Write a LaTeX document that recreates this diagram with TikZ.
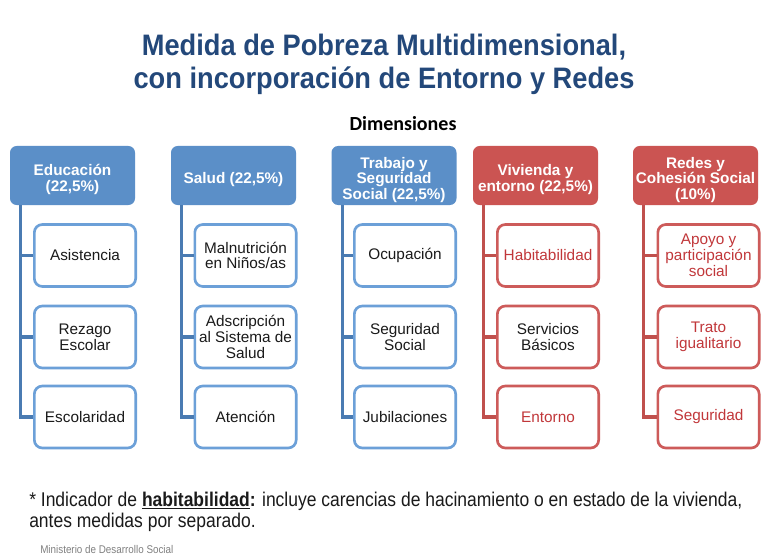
\documentclass[tikz,border=0pt]{standalone}
\usepackage{fontspec}
\setmainfont{Liberation Sans}
\newfontfamily\calibri{Carlito}
\newfontfamily\narrowsans[FakeStretch=0.88]{Liberation Sans}
\newfontfamily\titlesans[FakeStretch=0.92]{Liberation Sans}
\definecolor{titleblue}{HTML}{23487A}
\definecolor{hblue}{HTML}{5B8FC8}
\definecolor{hred}{HTML}{CB5452}
\definecolor{bblue}{HTML}{6CA0D8}
\definecolor{lblue}{HTML}{4A7BB2}
\definecolor{bred}{HTML}{CD5B5A}
\definecolor{lred}{HTML}{C0504D}
\definecolor{redtext}{HTML}{C1373A}
\definecolor{txt}{HTML}{1A1A1A}
\newcommand{\hu}{\rule{0pt}{14.5pt}}
\begin{document}
\begin{tikzpicture}[x=0.75pt,y=-0.75pt,
  hdr/.style={rounded corners=5pt, minimum width=93.75pt, minimum height=44.25pt,
    text=white, font=\bfseries\fontsize{11.5}{11.6}\selectfont, align=center, inner sep=0pt},
  hdrB/.style={hdr, fill=hblue},
  hdrR/.style={hdr, fill=hred},
  ch/.style={draw, line width=2pt, rounded corners=6pt, fill=white,
    minimum width=76pt, minimum height=46.5pt, inner sep=0pt, align=center,
    font=\fontsize{11.5}{11.8}\selectfont},
  chB/.style={ch, draw=bblue, text=txt},
  chR/.style={ch, draw=bred, text=redtext},
  chRk/.style={ch, draw=bred, text=txt},
  lnB/.style={draw=lblue, line width=2.4pt},
  lnR/.style={draw=lred, line width=2.4pt}
]
\path[use as bounding box, fill=white] (0,0) rectangle (763,556);

% title
\node[font=\titlesans\bfseries\fontsize{22.2}{24.75}\selectfont, text=titleblue, align=center] (title) at (384,64)
  {Medida de Pobreza Multidimensional,\\con incorporación de Entorno y Redes};
\node[font=\calibri\bfseries\fontsize{15}{18}\selectfont, text=black] (dim) at (403,124) {Dimensiones};

% headers
\node[hdrB] (e0) at (72.5,175.5) {\hu Educación\\(22,5\%)};
\node[hdrB] (s0) at (233.5,175.5) {\hu Salud (22,5\%)};
\node[hdrB] (t0) at (394,175.5) {\hu Trabajo y\\Seguridad\\Social (22,5\%)};
\node[hdrR] (v0) at (535.5,175.5) {\hu Vivienda y\\entorno (22,5\%)};
\node[hdrR] (r0) at (695.5,175.5) {\hu Redes y\\Cohesión Social\\(10\%)};

% children
\node[chB] (e1) at (85,255.5) {Asistencia};
\node[chB] (e2) at (85,337) {Rezago\\Escolar};
\node[chB] (e3) at (85,417) {Escolaridad};
\node[chB] (s1) at (245.5,255.5) {Malnutrición\\en Niños/as};
\node[chB] (s2) at (245.5,337) {Adscripción\\al Sistema de\\Salud};
\node[chB] (s3) at (245.5,417) {Atención};
\node[chB] (t1) at (405,255.5) {Ocupación};
\node[chB] (t2) at (405,337) {Seguridad\\Social};
\node[chB] (t3) at (405,417) {Jubilaciones};
\node[chR] (v1) at (548,255.5) {Habitabilidad};
\node[chRk] (v2) at (548,337) {Servicios\\Básicos};
\node[chR] (v3) at (548,417) {Entorno};
\node[chR] (r1) at (708.5,255.5) {Apoyo y\\participación\\social};
\node[chR] (r2) at (708.5,337) {Trato\\igualitario};
\node[chR] (r3) at (708.5,417) {Seguridad};

% connectors
\foreach \h/\c in {e/B,s/B,t/B,v/R,r/R}{
  \coordinate (\h L) at ([xshift=8.25pt]\h0.south west);
  \draw[ln\c] (\h L) |- (\h3.west);
  \draw[ln\c] (\h L |- \h1.west) -- (\h1.west);
  \draw[ln\c] (\h L |- \h2.west) -- (\h2.west);
}

% footer
\node[anchor=base west, inner sep=0pt, font=\narrowsans\fontsize{14.9}{18}\selectfont, text=txt] (f1) at (29,506)
  {* Indicador de \textbf{\underline{habitabilidad}:} incluye carencias de hacinamiento o en estado de la vivienda,};
\node[anchor=base west, inner sep=0pt, font=\narrowsans\fontsize{14.9}{18}\selectfont, text=txt] (f2) at (29,527)
  {antes medidas por separado.};
\node[anchor=west, inner sep=0pt, font=\narrowsans\fontsize{8.4}{10}\selectfont, text=gray] (m) at (40,549)
  {Ministerio de Desarrollo Social};
\end{tikzpicture}
\end{document}
